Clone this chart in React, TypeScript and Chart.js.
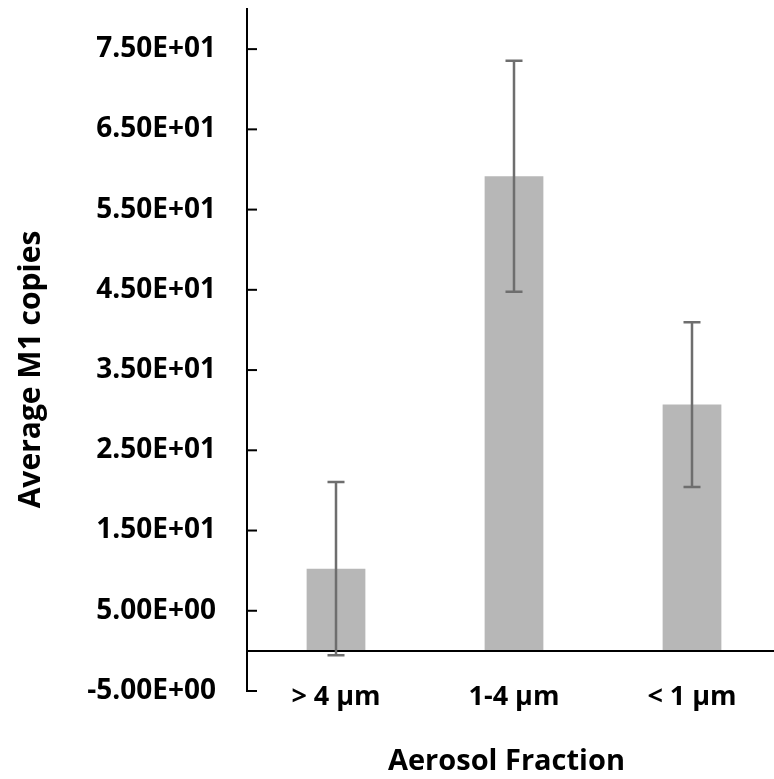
import React, { useEffect, useRef } from "react";
import { Chart, registerables } from "chart.js";

Chart.register(...registerables);

const categories = ["> 4 µm", "1-4 µm", "< 1 µm"];
const averages = [10.25, 59.15, 30.7];
const errors = [10.8, 14.4, 10.27];
const yTickValues = [-5, 5, 15, 25, 35, 45, 55, 65, 75];
const yTickLabels = ["-5.00E+00", "5.00E+00", "1.50E+01", "2.50E+01", "3.50E+01", "4.50E+01", "5.50E+01", "6.50E+01", "7.50E+01"];

const FONT = "'Open Sans', 'DejaVu Sans', sans-serif";

const extrasPlugin = {
  id: "extras",
  afterLayout(chart: any) {
    // lift the category labels so they sit beside the bottom tick, as in the original
    chart.scales.x.top -= 10;
  },
  afterDatasetsDraw(chart: any) {
    const ctx = chart.ctx;
    const y = chart.scales.y;
    const area = chart.chartArea;
    ctx.save();
    // zero line
    const y0 = y.getPixelForValue(0);
    ctx.strokeStyle = "#000";
    ctx.lineWidth = 2;
    ctx.beginPath();
    ctx.moveTo(area.left, y0);
    ctx.lineTo(area.right, y0);
    ctx.stroke();
    // inside tick marks
    yTickValues.forEach((v) => {
      const py = y.getPixelForValue(v);
      ctx.beginPath();
      ctx.moveTo(area.left, py);
      ctx.lineTo(area.left + 10, py);
      ctx.stroke();
    });
    // error bars
    const meta = chart.getDatasetMeta(0);
    ctx.strokeStyle = "#6e6e6e";
    ctx.lineWidth = 2.5;
    meta.data.forEach((bar: any, i: number) => {
      const x = bar.x;
      const hi = y.getPixelForValue(averages[i] + errors[i]);
      const lo = y.getPixelForValue(averages[i] - errors[i]);
      ctx.beginPath();
      ctx.moveTo(x, hi);
      ctx.lineTo(x, lo);
      ctx.moveTo(x - 8.5, hi);
      ctx.lineTo(x + 8.5, hi);
      ctx.moveTo(x - 8.5, lo);
      ctx.lineTo(x + 8.5, lo);
      ctx.stroke();
    });
    ctx.restore();
  },
};

export default function App() {
  const ref = useRef<HTMLCanvasElement | null>(null);
  useEffect(() => {
    if (!ref.current) return;
    const chart = new Chart(ref.current, {
      type: "bar",
      data: {
        labels: categories,
        datasets: [
          {
            data: averages,
            backgroundColor: "#b7b7b7",
            borderWidth: 0,
            barPercentage: 0.33,
            categoryPercentage: 1,
          },
        ],
      },
      options: {
        animation: false,
        responsive: true,
        maintainAspectRatio: false,
        layout: { padding: { top: 9, left: 0, right: 0, bottom: 0 } },
        plugins: { legend: { display: false }, tooltip: { enabled: false } },
        scales: {
          x: {
            grid: { display: false, drawTicks: false },
            border: { display: false },
            ticks: {
              color: "#000",
              padding: 0,
              maxRotation: 0,
              font: { family: FONT, size: 27, weight: "bold" },
            },
            title: {
              display: true,
              text: "Aerosol Fraction  ",
              color: "#000",
              padding: { top: 0, bottom: 0 },
              font: { family: FONT, size: 29, weight: "bold" },
            },
            afterFit(scale: any) {
              scale.height = 88;
              scale.paddingLeft = 0;
              scale.paddingRight = 0;
            },
          },
          y: {
            min: -5,
            max: 80,
            grid: { display: false, drawTicks: false },
            border: { display: true, color: "#000", width: 2 },
            afterBuildTicks(scale: any) {
              scale.ticks = yTickValues.map((v) => ({ value: v }));
            },
            ticks: {
              color: "#000",
              padding: 31,
              font: { family: FONT, size: 28, weight: "bold" },
              callback: (value: any) => {
                const idx = yTickValues.indexOf(Number(value));
                return idx >= 0 ? yTickLabels[idx] : "";
              },
            },
            title: {
              display: true,
              text: "Average M1 copies     ",
              color: "#000",
              padding: { top: 13, bottom: 0 },
              font: { family: FONT, size: 30, weight: "bold" },
            },
            afterFit(scale: any) {
              scale.width = 247;
              scale.paddingTop = 0;
              scale.paddingBottom = 0;
            },
          },
        },
      },
      plugins: [extrasPlugin],
    });
    return () => chart.destroy();
  }, []);
  return (
    <div style={{ position: "absolute", left: 0, top: 0, width: 774, height: 779, overflow: "hidden", background: "#fff" }}>
      <div style={{ position: "relative", width: 781, height: 779 }}>
        <canvas ref={ref} />
      </div>
    </div>
  );
}
